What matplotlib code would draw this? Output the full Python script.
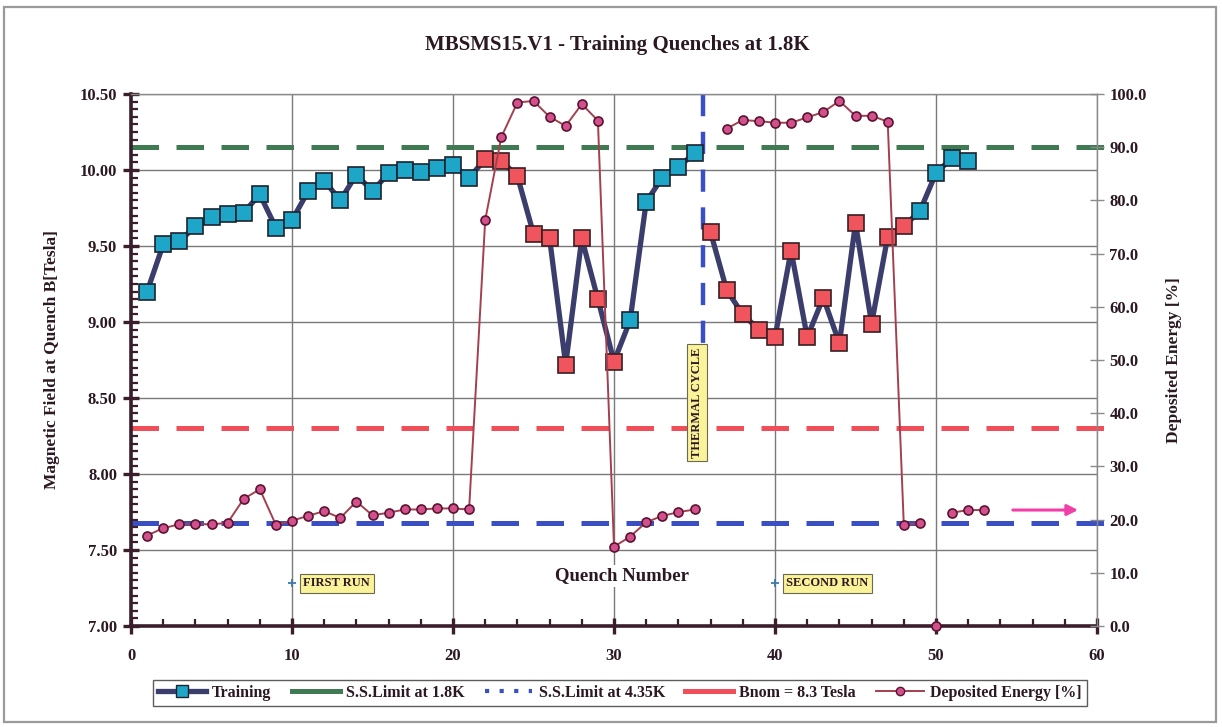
import numpy as np
import matplotlib
matplotlib.use("Agg")
import matplotlib.pyplot as plt
from matplotlib.lines import Line2D
from matplotlib.patches import Rectangle
from matplotlib.ticker import MultipleLocator, FormatStrFormatter

# ---- data -------------------------------------------------------------
quench = list(range(1, 53))
field_tesla = [9.20, 9.51, 9.53, 9.63, 9.69, 9.71, 9.72, 9.84, 9.62, 9.67,
               9.86, 9.93, 9.80, 9.97, 9.86, 9.98, 10.00, 9.99, 10.01, 10.03,
               9.95, 10.07, 10.06, 9.96, 9.58, 9.55, 8.72, 9.55, 9.15, 8.74,
               9.01, 9.79, 9.95, 10.02, 10.11, 9.59, 9.21, 9.05, 8.95, 8.90,
               9.47, 8.90, 9.16, 8.86, 9.65, 8.99, 9.56, 9.63, 9.73, 9.98,
               10.08, 10.06]
# quenches drawn with red markers
red_quenches = list(range(22, 31)) + list(range(36, 49))

energy_quench = list(range(1, 54))
deposited_energy = [17.0, 18.4, 19.1, 19.2, 19.1, 19.4, 23.9, 25.7, 19.0, 19.8,
                    20.7, 21.6, 20.3, 23.4, 20.8, 21.3, 21.9, 21.9, 22.1, 22.1,
                    21.9, 76.3, 91.9, 98.4, 98.7, 95.7, 94.0, 98.1, 95.0, 14.9,
                    16.8, 19.5, 20.7, 21.4, 21.9, np.nan, 93.5, 95.1, 94.9, 94.6,
                    94.6, 95.6, 96.6, 98.7, 95.9, 95.9, 94.8, 19.0, 19.4, 0.0,
                    21.3, 21.8, 21.8]
energy_unlinked = [50]          # point shown without connecting line

ss_limit_18K = 10.15
ss_limit_435K = 7.68
b_nom = 8.3
thermal_cycle_at = 35.5
thermal_label_pos = (35.15, 8.47)
run_labels = ["FIRST RUN", "SECOND RUN"]
run_label_x = [10, 40]
run_label_y = 7.28

# ---- style ------------------------------------------------------------
SERIF = ["Liberation Serif", "DejaVu Serif"]
plt.rcParams["font.family"] = SERIF
plt.rcParams["font.weight"] = "bold"
TXT = "#2b1822"
AXIS_DARK = "#3a1e2b"
NAVY = "#3b3d6d"
CYAN = "#1ea6c8"
RED_SQ = "#f0545c"
GREEN = "#3f7a52"
BLUE = "#3a4fc4"
RED_LINE = "#f04e58"
E_LINE = "#a3404f"
E_MARK = "#d2508c"

fig = plt.figure(figsize=(12.22, 7.27), dpi=100)
fig.patches.append(Rectangle((4 / 1222, 5 / 727), 1212 / 1222, 715 / 727,
                             transform=fig.transFigure, fill=False,
                             edgecolor="#9a9a9a", linewidth=1.6))

ax = fig.add_axes([131 / 1222, 1 - 626 / 727, 966 / 1222, 532 / 727])
ax2 = ax.twinx()

ax.set_xlim(0, 60)
ax.set_ylim(7.0, 10.5)
ax2.set_ylim(0, 100)

# grid
ax.xaxis.set_major_locator(MultipleLocator(10))
ax.xaxis.set_minor_locator(MultipleLocator(2))
ax.yaxis.set_major_locator(MultipleLocator(0.5))
ax.yaxis.set_minor_locator(MultipleLocator(0.05))
ax.yaxis.set_major_formatter(FormatStrFormatter("%.2f"))
ax.grid(True, which="major", color="#7a7a7a", linewidth=1.0, zorder=0)
ax.set_axisbelow(True)

# spines
for s in ("left", "bottom"):
    ax.spines[s].set_color(AXIS_DARK)
    ax.spines[s].set_linewidth(2.6)
ax.spines["top"].set_color("#8a8a8a")
ax.spines["top"].set_linewidth(1.0)
ax.spines["right"].set_visible(False)
for s in ("left", "bottom", "top"):
    ax2.spines[s].set_visible(False)
ax2.spines["right"].set_color("#8a8a8a")
ax2.spines["right"].set_linewidth(1.0)

ax.tick_params(which="major", direction="inout", length=12, width=2.4,
               color=AXIS_DARK, labelsize=12, labelcolor=TXT, pad=4)
ax.tick_params(which="minor", direction="in", length=5, width=1.6,
               color=AXIS_DARK)
ax.tick_params(axis="x", which="major", pad=10)
ax2.tick_params(which="major", direction="inout", length=10, width=1.0,
                color="#8a8a8a", labelsize=12, labelcolor=TXT, pad=4)
ax2.yaxis.set_major_locator(MultipleLocator(10))
ax2.yaxis.set_major_formatter(FormatStrFormatter("%.1f"))
for lab in ax.get_xticklabels() + ax.get_yticklabels() + ax2.get_yticklabels():
    lab.set_fontweight("bold")

# limit lines (run slightly past the right axis)
xs = [0, 60.5]
ax.plot(xs, [ss_limit_18K] * 2, color=GREEN, lw=3.6, dashes=(5.5, 3.5),
        clip_on=False, zorder=2)
ax.plot(xs, [ss_limit_435K] * 2, color=BLUE, lw=3.6, dashes=(5.5, 3.5),
        clip_on=False, zorder=2)
ax.plot(xs, [b_nom] * 2, color=RED_LINE, lw=3.6, dashes=(5.5, 3.5),
        clip_on=False, zorder=2)

# thermal cycle marker, running down to its label
ax.plot([thermal_cycle_at] * 2, [10.5, thermal_label_pos[1]], color=BLUE,
        lw=3.2, dashes=(5, 3.5), zorder=2)

# training curve, broken at the thermal cycle
q = np.array(quench)
b = np.array(field_tesla)
first = q < thermal_cycle_at
for m in (first, ~first):
    ax.plot(q[m], b[m], color=NAVY, lw=3.8, zorder=3, solid_capstyle="round")
is_red = np.isin(q, red_quenches)
ax.plot(q[~is_red], b[~is_red], ls="none", marker="s", ms=11.5,
        mfc=CYAN, mec="#1d2430", mew=1.2, zorder=4)
ax.plot(q[is_red], b[is_red], ls="none", marker="s", ms=11.5,
        mfc=RED_SQ, mec="#3a1e22", mew=1.2, zorder=4)

# deposited energy on the right axis
eq = np.array(energy_quench)
ev = np.array(deposited_energy)
e_line = np.where(np.isin(eq, energy_unlinked), np.nan, ev)
ax2.plot(eq, e_line, color=E_LINE, lw=1.4, zorder=3)
ax2.plot(eq, ev, ls="none", marker="o", ms=6.5, mfc=E_MARK, mec="#5a1430",
         mew=1.2, zorder=4, clip_on=False)

# arrow pointing to the energy axis
ax2.annotate("", xy=(59.0, 21.8), xytext=(54.6, 21.8),
             arrowprops=dict(arrowstyle="-|>", color="#f040a8", lw=2.2,
                             mutation_scale=16))

# annotations
box = dict(boxstyle="square,pad=0.3", fc="#fbf39a", ec="#6a6a50", lw=0.8)
for lx, lt in zip(run_label_x, run_labels):
    ax.plot([lx], [run_label_y], marker="+", color="#3a7ab0", ms=6, mew=1.3,
            zorder=5)
    ax.text(lx + 0.7, run_label_y, lt, fontsize=9, fontweight="bold",
            color=TXT, ha="left", va="center", bbox=box, zorder=6)
ax.text(*thermal_label_pos, "THERMAL CYCLE", rotation=90, fontsize=9,
        fontweight="bold", color=TXT, ha="center", va="center",
        bbox=box, zorder=6)
ax.text(30.5, 7.33, "Quench Number", fontsize=13.5, fontweight="bold",
        color=TXT, ha="center", va="center", zorder=5,
        bbox=dict(boxstyle="square,pad=0.15", fc="white", ec="none"))

# titles
fig.text(617 / 1222, 1 - 45 / 727, "MBSMS15.V1 - Training Quenches at 1.8K",
         fontsize=15, fontweight="bold", color=TXT, ha="center", va="center")
ax.set_ylabel("Magnetic Field at Quench B[Tesla]", fontsize=12.5,
              fontweight="bold", color=TXT, labelpad=14)
ax2.set_ylabel("Deposited Energy [%]", fontsize=12.5, fontweight="bold",
               color=TXT, labelpad=14, rotation=90, va="top")

# legend
h_train = Line2D([], [], color=NAVY, lw=3.8, marker="s", ms=9, mfc=CYAN,
                 mec="#1d2430")
h_g = Line2D([], [], color=GREEN, lw=3.6)
h_b = Line2D([], [], color=BLUE, lw=3.0, ls=(0, (1, 2.5)))
h_r = Line2D([], [], color=RED_LINE, lw=3.6)
h_e = Line2D([], [], color=E_LINE, lw=1.4, marker="o", ms=6, mfc=E_MARK,
             mec="#5a1430")
leg = fig.legend([h_train, h_g, h_b, h_r, h_e],
                 ["Training", "S.S.Limit at 1.8K", "S.S.Limit at 4.35K",
                  "Bnom = 8.3 Tesla", "Deposited Energy [%]"],
                 loc="center", bbox_to_anchor=(620 / 1222, 1 - 693 / 727),
                 ncol=5, frameon=True, fancybox=False, edgecolor="#333333",
                 prop=dict(family=SERIF, weight="bold", size=11.5),
                 handlelength=3.0, columnspacing=1.25, handletextpad=0.4,
                 borderpad=0.3)
leg.get_frame().set_linewidth(1.0)
for t in leg.get_texts():
    t.set_color(TXT)

fig.savefig("out.png", dpi=100, facecolor="white")
